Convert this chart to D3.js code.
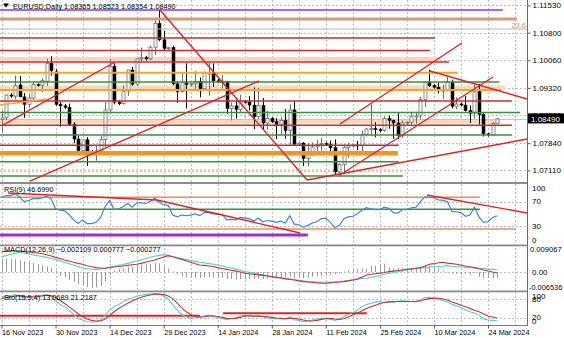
<!DOCTYPE html>
<html><head><meta charset="utf-8">
<script src="https://cdn.jsdelivr.net/npm/d3@7"></script>
<style>
html,body{margin:0;padding:0;background:#fff;overflow:hidden;}
svg{display:block;font-family:"Liberation Sans",Arial,sans-serif;}
</style></head><body>
<svg id="c" width="564" height="338"></svg>
<script>
// ---------------- DATA ----------------
const dates = ["2023-11-16","2023-11-17","2023-11-19","2023-11-20","2023-11-21","2023-11-22","2023-11-23","2023-11-24","2023-11-26","2023-11-27","2023-11-28","2023-11-29","2023-11-30","2023-12-01","2023-12-03","2023-12-04","2023-12-05","2023-12-06","2023-12-07","2023-12-08","2023-12-10","2023-12-11","2023-12-12","2023-12-13","2023-12-14","2023-12-15","2023-12-17","2023-12-18","2023-12-19","2023-12-20","2023-12-21","2023-12-22","2023-12-24","2023-12-26","2023-12-27","2023-12-28","2023-12-29","2023-12-31","2024-01-02","2024-01-03","2024-01-04","2024-01-05","2024-01-07","2024-01-08","2024-01-09","2024-01-10","2024-01-11","2024-01-12","2024-01-14","2024-01-15","2024-01-16","2024-01-17","2024-01-18","2024-01-19","2024-01-21","2024-01-22","2024-01-23","2024-01-24","2024-01-25","2024-01-26","2024-01-28","2024-01-29","2024-01-30","2024-01-31","2024-02-01","2024-02-02","2024-02-04","2024-02-05","2024-02-06","2024-02-07","2024-02-08","2024-02-09","2024-02-11","2024-02-12","2024-02-13","2024-02-14","2024-02-15","2024-02-16","2024-02-18","2024-02-19","2024-02-20","2024-02-21","2024-02-22","2024-02-23","2024-02-25","2024-02-26","2024-02-27","2024-02-28","2024-02-29","2024-03-01","2024-03-03","2024-03-04","2024-03-05","2024-03-06","2024-03-07","2024-03-08","2024-03-10","2024-03-11","2024-03-12","2024-03-13","2024-03-14","2024-03-15","2024-03-17","2024-03-18","2024-03-19","2024-03-20","2024-03-21","2024-03-22","2024-03-24","2024-03-25","2024-03-26"];

const open  = [1.0848,1.0852,1.0913,1.0910,1.0940,1.0908,1.0888,1.0905,1.0941,1.0939,1.0950,1.0998,1.0975,1.0888,1.0884,1.0880,1.0835,1.0795,1.0764,1.0793,1.0761,1.0758,1.0763,1.0794,1.0873,1.0990,1.0894,1.0890,1.0923,1.0980,1.0942,1.1010,1.1013,1.1010,1.1041,1.1105,1.1061,1.1038,1.1040,1.0943,1.0922,1.0946,1.0941,1.0943,1.0950,1.0930,1.0972,1.0972,1.0951,1.0948,1.0950,1.0877,1.0884,1.0874,1.0896,1.0894,1.0886,1.0855,1.0885,1.0838,1.0850,1.0842,1.0834,1.0845,1.0818,1.0873,1.0781,1.0784,1.0743,1.0755,1.0774,1.0781,1.0783,1.0780,1.0772,1.0707,1.0727,1.0773,1.0777,1.0779,1.0778,1.0808,1.0822,1.0823,1.0820,1.0818,1.0850,1.0845,1.0838,1.0804,1.0838,1.0840,1.0855,1.0857,1.0901,1.0947,1.0938,1.0934,1.0926,1.0926,1.0948,1.0883,1.0889,1.0886,1.0871,1.0864,1.0922,1.0861,1.0809,1.0806,1.08365];
const high  = [1.0872,1.0915,1.0918,1.0965,1.0964,1.0918,1.0916,1.0949,1.0945,1.0958,1.1010,1.1017,1.0982,1.0895,1.0889,1.0890,1.0840,1.0804,1.0793,1.0800,1.0766,1.0779,1.0804,1.0895,1.1009,1.0998,1.0899,1.0939,1.0980,1.0988,1.1012,1.1040,1.1018,1.1045,1.1121,1.1140,1.1085,1.1042,1.1045,1.0950,1.0970,1.0998,1.0946,1.0977,1.0960,1.0976,1.0999,1.0998,1.0956,1.0967,1.0950,1.0893,1.0899,1.0914,1.0900,1.0910,1.0933,1.0932,1.0905,1.0871,1.0854,1.0851,1.0855,1.0875,1.0888,1.0897,1.0786,1.0787,1.0785,1.0786,1.0793,1.0798,1.0788,1.0791,1.0794,1.0730,1.0781,1.0785,1.0782,1.0790,1.0818,1.0825,1.0888,1.0840,1.0825,1.0856,1.0858,1.0847,1.0866,1.0845,1.0843,1.0868,1.0868,1.0908,1.0950,1.0981,1.0942,1.0947,1.0941,1.0963,1.0954,1.0907,1.0893,1.0911,1.0885,1.0942,1.0943,1.0866,1.0812,1.0840,1.08523];
const low   = [1.0813,1.0846,1.0905,1.0901,1.0914,1.0852,1.0880,1.0900,1.0936,1.0921,1.0937,1.0965,1.0884,1.0828,1.0876,1.0831,1.0784,1.0764,1.0758,1.0723,1.0755,1.0737,1.0755,1.0772,1.0863,1.0888,1.0886,1.0887,1.0911,1.0938,1.0937,1.1000,1.1005,1.1007,1.1020,1.1057,1.1033,1.1033,1.0939,1.0892,1.0920,1.0877,1.0936,1.0930,1.0907,1.0925,1.0911,1.0935,1.0945,1.0930,1.0862,1.0845,1.0850,1.0868,1.0890,1.0872,1.0822,1.0849,1.0822,1.0820,1.0838,1.0795,1.0807,1.0796,1.0780,1.0781,1.0776,1.0723,1.0722,1.0750,1.0751,1.0764,1.0777,1.0763,1.0701,1.0695,1.0703,1.0745,1.0772,1.0765,1.0762,1.0802,1.0805,1.0800,1.0813,1.0815,1.0823,1.0796,1.0795,1.0798,1.0832,1.0833,1.0836,1.0848,1.0881,1.0935,1.0930,1.0917,1.0902,1.0923,1.0877,1.0875,1.0882,1.0869,1.0838,1.0850,1.0834,1.0802,1.0802,1.0805,1.08354];
const close = [1.0852,1.0913,1.0910,1.0938,1.0908,1.0888,1.0905,1.0941,1.0939,1.0952,1.0998,1.0978,1.0888,1.0884,1.0880,1.0835,1.0795,1.0764,1.0793,1.0761,1.0758,1.0763,1.0794,1.0873,1.0990,1.0894,1.0890,1.0923,1.0980,1.0942,1.1010,1.1013,1.1010,1.1041,1.1105,1.1061,1.1038,1.1040,1.0943,1.0922,1.0946,1.0941,1.0943,1.0950,1.0930,1.0972,1.0972,1.0951,1.0948,1.0950,1.0877,1.0884,1.0874,1.0896,1.0894,1.0886,1.0855,1.0885,1.0838,1.0850,1.0842,1.0834,1.0845,1.0818,1.0873,1.0781,1.0784,1.0743,1.0755,1.0774,1.0781,1.0783,1.0780,1.0772,1.0707,1.0727,1.0773,1.0777,1.0779,1.0778,1.0808,1.0822,1.0823,1.0820,1.0818,1.0850,1.0845,1.0838,1.0804,1.0838,1.0840,1.0855,1.0857,1.0901,1.0947,1.0938,1.0934,1.0926,1.0926,1.0948,1.0883,1.0889,1.0886,1.0871,1.0864,1.0922,1.0861,1.0809,1.0806,1.0837,1.08490];

const rsi = [77,80,80,83,78,70,72,75,75,76,79,75,58,56,55,49,40,34,40,34,34,36,44,62,72,57,58,62,67,61,68,68,67,70,76,69,65,64,48,45,48,47,48,50,47,52,52,50,49,49,40,41,40,44,43,42,38,43,37,39,38,36,38,35,47,33,32,28,31,35,37,42,43,36,27,31,42,45,46,50,56,60,58,57,57,61,59,52,51,57,57,60,61,70,78,77,76,73,72,70,54,53,52,46,48,61,45,36,37,44,46.699];

const macdHist = [0.0046,0.0047,0.0046,0.0044,0.0041,0.0037,0.0034,0.0031,0.0027,0.0023,0.0019,0.0014,0.0005,-0.0014,-0.0019,-0.0027,-0.0034,-0.0042,-0.0047,-0.0053,-0.0056,-0.0054,-0.0049,-0.0033,-0.0011,0.0006,0.0010,0.0013,0.0017,0.0019,0.0022,0.0025,0.0026,0.0028,0.0031,0.0030,0.0020,0.0012,0.0002,-0.0008,-0.0014,-0.0019,-0.0020,-0.0020,-0.0021,-0.0019,-0.0018,-0.0019,-0.0020,-0.0020,-0.0024,-0.0025,-0.0026,-0.0025,-0.0025,-0.0024,-0.0025,-0.0023,-0.0024,-0.0023,-0.0022,-0.0022,-0.0020,-0.0020,-0.0016,-0.0020,-0.0020,-0.0022,-0.0020,-0.0017,-0.0015,-0.0013,-0.0012,-0.0011,-0.0008,-0.0004,0.0002,0.0006,0.0008,0.0010,0.0012,0.0012,0.0021,0.0021,0.0027,0.0029,0.0017,0.0012,0.0014,0.0012,0.0014,0.0012,0.0014,0.0017,0.0021,0.0021,0.0017,0.0012,0.0003,-0.0002,-0.0006,-0.0006,-0.0009,-0.0006,-0.0009,-0.0003,-0.0017,-0.0021,-0.0021,-0.0022,-0.002109];
const macdMain = [0.00535,0.0057,0.0061,0.0065,0.00686,0.0066,0.0063,0.0060,0.00569,0.0054,0.0051,0.00477,0.0043,0.0039,0.00337,0.0029,0.0024,0.00186,0.0015,0.0012,0.00093,0.0009,0.00093,0.0013,0.00174,0.0020,0.0023,0.0026,0.0030,0.0034,0.0038,0.0042,0.0046,0.00511,0.0055,0.0058,0.00604,0.0058,0.0054,0.0050,0.0047,0.0043,0.0040,0.0037,0.00337,0.0032,0.0029,0.0027,0.00244,0.0021,0.0017,0.0014,0.0010,0.0006,0.00012,-0.0001,-0.0004,-0.0007,-0.0010,-0.0013,-0.00163,-0.0018,-0.0020,-0.0022,-0.0024,-0.00267,-0.0029,-0.0031,-0.00337,-0.0034,-0.0035,-0.0035,-0.0036,-0.0035,-0.0034,-0.0033,-0.00314,-0.0029,-0.0027,-0.0025,-0.0023,-0.00221,-0.0019,-0.0016,-0.0012,-0.0008,-0.00046,-0.0002,0.0001,0.0004,0.0007,0.0009,0.0011,0.0013,0.00151,0.0017,0.0018,0.0019,0.0020,0.00221,0.0020,0.0019,0.0018,0.0016,0.0015,0.0014,0.0013,0.0012,0.0010,0.0009,0.000777];
const macdSignal = [0.00709,0.0072,0.0073,0.0073,0.00732,0.0072,0.0070,0.0068,0.0066,0.00639,0.0060,0.0056,0.0051,0.0047,0.00418,0.0038,0.0034,0.0030,0.00267,0.0022,0.0018,0.00151,0.0014,0.00128,0.0015,0.00174,0.0019,0.0021,0.0023,0.0025,0.00267,0.0030,0.0034,0.0038,0.00418,0.0047,0.0052,0.00569,0.0053,0.0049,0.0044,0.0039,0.00337,0.0029,0.00244,0.0023,0.0021,0.0019,0.00151,0.0012,0.0009,0.0006,0.0003,0.0000,-0.00046,-0.0006,-0.0008,-0.0010,-0.0012,-0.0014,-0.00163,-0.0019,-0.0021,-0.0024,-0.0026,-0.00279,-0.0031,-0.00337,-0.0035,-0.0036,-0.0038,-0.0039,-0.00395,-0.0038,-0.0037,-0.0035,-0.00337,-0.0031,-0.0028,-0.00244,-0.0018,-0.00105,-0.0008,-0.0006,-0.0004,-0.0002,0.00012,0.0003,0.0005,0.0007,0.00093,0.0011,0.0013,0.00151,0.0021,0.00267,0.0029,0.0032,0.00337,0.0031,0.0029,0.0027,0.00244,0.0021,0.0018,0.00151,0.0011,0.0007,0.00035,0.0000,-0.000277];

const stoK = [85,88,88,92,88,82,84,88,88,90,92,85,72,62,55,45,32,20,15,10,9,10,15,30,45,55,62,70,78,82,88,90,92,94,95,93,88,78,62,45,32,24,20,22,25,28,30,26,22,20,16,20,22,28,30,28,26,28,25,22,20,18,20,18,25,16,14,10,12,15,18,20,20,18,14,18,25,32,38,45,55,62,65,70,70,69,70,68,72,73,72,71,70,76,83,84,82,78,74,70,63,58,52,46,40,36,30,18,15,14,13.0689];
const stoD = [80,83,85,88,89,87,85,85,86,88,90,89,83,74,65,55,45,34,25,18,14,12,12,18,28,40,50,58,66,73,79,84,88,91,93,94,92,88,80,66,52,40,32,26,24,25,27,28,26,23,20,19,20,23,27,28,27,27,26,25,23,21,20,19,20,20,18,15,12,12,14,17,19,20,18,17,19,24,30,36,43,50,55,60,65,68,70,71,71,71,71,71,72,73,77,80,82,81,79,76,70,65,60,55,50,45,40,33,27,24,21.2187];

const priceTicks = [1.11530,1.10800,1.10060,1.09320,1.08590,1.07840,1.07110];
const dateTickIdx = [0,12,24,36,48,60,72,84,96,108];
const dateTickLabels = ["16 Nov 2023","30 Nov 2023","14 Dec 2023","29 Dec 2023","14 Jan 2024","28 Jan 2024","11 Feb 2024","25 Feb 2024","10 Mar 2024","24 Mar 2024"];

// horizontal objects on price chart: price, end (bar index), kind
const levelPrices = [1.11407,1.11166,1.10898,1.10657,1.10322,1.10095,1.10014,1.09728,1.09478,1.09331,1.09264,1.08969,1.08661,1.08420,1.08318,1.08059,1.07783,1.07568,1.07343,1.07102,1.06960];
const levelEnds   = [111.3,114.4,116.7,96.2,95.1,97.3,99.3,101.3,110.5,111.8,111.0,113.3,115.1,110.7,113.3,113.3,88.2,88.0,88.2,89.1,89.1];
const levelKinds  = ["purple","fibo","gray","darkred","red","band","red","orange","green","band","orange","red","green","band","red","green","darkred","thickorange","green","banddot","green"];
// trend lines: [bar1, price1, bar2, price2]
const trendLines = [
  [0.33,1.08326,25.19,1.10014],
  [6.33,1.06826,57.16,1.09505],
  [35.18,1.11407,67.81,1.06853],
  [67.81,1.06853,116.7,1.07952],
  [75.14,1.06987,109.1,1.09612],
  [75.14,1.08353,102.2,1.10523],
  [95.12,1.09773,116.7,1.09023]
];
const orangeTrend = [[-0.33,1.08862,10.1,1.09023]];
const rsiTrend = [[1.44,84.3,34.5,72.8],[34.5,72.8,66.3,18.4],[94.45,81,116.7,51.4]];
const rsiLevels = [77.2,57.4,25,15.1];
const rsiLevelEnds = [106.2,106.2,114.2,68.0];
const rsiLevelKinds = ["salmon","green","salmon","purple"];
const stoLines = [[-0.33,28.2,44.06,28.2],[49.2,35.5,81.1,35.5]];
const bid = 1.08490;
const fiboLabel = "23.6";
const macdRange = [-0.006536,0.009067];

// ---------------- DRAW ----------------
const svg = d3.select("#c");
const W = 564, AX = 527;
const FONT = 7.3;
const x = d3.scaleLinear().domain([0,108]).range([1.5,488]);
const yP = d3.scaleLinear().domain([1.06800,1.11675]).range([182,0]);
const yR = d3.scaleLinear().domain([0,100]).range([244.2,183.45]);
const yM = d3.scaleLinear().domain(macdRange).range([290.7,246]);
const yS = d3.scaleLinear().domain([0,100]).range([325,292]);

const defs = svg.append("defs");
[["cMain",0,0,AX,182],["cRsi",0,184,AX,60],["cMacd",0,246,AX,44.5],["cSto",0,292,AX,33]].forEach(c=>{
  defs.append("clipPath").attr("id",c[0]).append("rect").attr("x",c[1]).attr("y",c[2]).attr("width",c[3]).attr("height",c[4]);
});
svg.append("rect").attr("width",W).attr("height",338).attr("fill","#fff");

const gridC = "#bdbdbd";
const gGrid = svg.append("g");
for (let k=0;k<=19;k++){
  const xi = Math.round(x(k*6))+0.5;
  if (xi>=AX) break;
  gGrid.append("line").attr("x1",xi).attr("x2",xi).attr("y1",0).attr("y2",325)
    .attr("stroke",gridC).attr("stroke-width",1).attr("stroke-dasharray","2,2");
}
function hgrid(y){ gGrid.append("line").attr("x1",0).attr("x2",AX).attr("y1",Math.round(y)+0.5).attr("y2",Math.round(y)+0.5)
    .attr("stroke",gridC).attr("stroke-dasharray","2,2"); }
priceTicks.forEach(p=>hgrid(yP(p)));
[70,30].forEach(v=>hgrid(yR(v)));
hgrid(yM(0));
[80,20].forEach(v=>hgrid(yS(v)));

// ---------- main panel ----------
const gMain = svg.append("g").attr("clip-path","url(#cMain)");
const styles = {
  purple:{c:"#9a32cc",w:1.5},
  fibo:{c:"#d49c78",w:3},
  gray:{c:"#b8b8b8",w:1},
  darkred:{c:"#a63a3a",w:1.5},
  red:{c:"#cf2b2b",w:1.5},
  band:{c:"#fad6be",w:4},
  banddot:{c:"#f3c39f",w:3,dash:"2,2"},
  orange:{c:"#f2a632",w:2},
  thickorange:{c:"#f5961a",w:4.5},
  green:{c:"#3c8f3c",w:1.5}
};
levelPrices.forEach((p,k)=>{
  const s = styles[levelKinds[k]];
  if (!levelKinds[k].startsWith("band")) return;
  gMain.append("line").attr("x1",0).attr("x2",x(levelEnds[k])).attr("y1",yP(p)).attr("y2",yP(p))
    .attr("stroke",s.c).attr("stroke-width",s.w).attr("stroke-dasharray",s.dash||null);
});
gMain.append("line").attr("x1",0).attr("x2",AX).attr("y1",Math.round(yP(bid))+0.5).attr("y2",Math.round(yP(bid))+0.5)
  .attr("stroke","#c4c4c4").attr("stroke-width",1);

const idx = d3.range(dates.length);
const gC = gMain.append("g");
idx.forEach(i=>{
  const xc = Math.round(x(i));
  const up = close[i] >= open[i];
  gC.append("line").attr("x1",xc+0.5).attr("x2",xc+0.5).attr("y1",yP(high[i])).attr("y2",yP(low[i]))
    .attr("stroke", up ? "#6e6e6e" : "#000").attr("stroke-width",1);
  const yt = yP(Math.max(open[i],close[i])), yb = yP(Math.min(open[i],close[i]));
  const h = Math.max(1, yb-yt);
  gC.append("rect").attr("x",xc-1).attr("y",yt).attr("width",3).attr("height",h)
    .attr("fill", up ? "#fff" : "#000").attr("stroke", up ? "#6e6e6e" : "#000").attr("stroke-width",up?0.8:0.5);
});

levelPrices.forEach((p,k)=>{
  if (levelKinds[k].startsWith("band")) return;
  const s = styles[levelKinds[k]];
  gMain.append("line").attr("x1",0).attr("x2",x(levelEnds[k])).attr("y1",yP(p)).attr("y2",yP(p))
    .attr("stroke",s.c).attr("stroke-width",s.w);
});
orangeTrend.forEach(t=>gMain.append("line").attr("x1",x(t[0])).attr("y1",yP(t[1])).attr("x2",x(t[2])).attr("y2",yP(t[3]))
  .attr("stroke","#f2a632").attr("stroke-width",1.5));
trendLines.forEach(t=>gMain.append("line").attr("x1",x(t[0])).attr("y1",yP(t[1])).attr("x2",x(t[2])).attr("y2",yP(t[3]))
  .attr("stroke","#d42828").attr("stroke-width",1.4));
svg.append("text").attr("x",526).attr("y",yP(levelPrices[1])+8.5).attr("text-anchor","end")
  .attr("font-size",7.5).attr("fill","#c8926c").text(fiboLabel);

svg.append("path").attr("d","M3,3.5 L9,3.5 L6,7.5 Z").attr("fill","#000");
svg.append("text").attr("x",13).attr("y",9).attr("font-size",FONT).attr("fill","#000")
  .text("EURUSD,Daily  " + [open[110],high[110],low[110],close[110]].map(d3.format(".5f")).join(" "));

// ---------- RSI ----------
const gR = svg.append("g").attr("clip-path","url(#cRsi)");
const rsiCol = {salmon:"#e0906a",green:"#3c8f3c",purple:"#9a32cc"};
rsiLevels.forEach((v,k)=>{
  gR.append("line").attr("x1",0).attr("x2",x(rsiLevelEnds[k])).attr("y1",yR(v)).attr("y2",yR(v))
    .attr("stroke",rsiCol[rsiLevelKinds[k]]).attr("stroke-width",rsiLevelKinds[k]==="purple"?3:1.5);
});
gR.append("path").datum(idx).attr("fill","none").attr("stroke","#3f86d4").attr("stroke-width",1.2)
  .attr("d",d3.line().x(i=>x(i)).y(i=>yR(rsi[i])));
rsiTrend.forEach(t=>gR.append("line").attr("x1",x(t[0])).attr("y1",yR(t[1])).attr("x2",x(t[2])).attr("y2",yR(t[3]))
  .attr("stroke","#d42828").attr("stroke-width",1.4));
svg.append("text").attr("x",4).attr("y",191.5).attr("font-size",FONT).text("RSI(9) " + d3.format(".4f")(rsi[110]));

// ---------- MACD ----------
const gM = svg.append("g").attr("clip-path","url(#cMacd)");
idx.forEach(i=>{
  const xc = Math.round(x(i))+0.5;
  gM.append("line").attr("x1",xc).attr("x2",xc).attr("y1",yM(0)).attr("y2",yM(macdHist[i]))
    .attr("stroke","#9a9a9a").attr("stroke-width",1);
});
gM.append("path").datum(idx).attr("fill","none").attr("stroke","#5cc8cc").attr("stroke-width",1.1)
  .attr("d",d3.line().x(i=>x(i)).y(i=>yM(macdMain[i])));
gM.append("path").datum(idx).attr("fill","none").attr("stroke","#b83a3a").attr("stroke-width",1.1)
  .attr("d",d3.line().x(i=>x(i)).y(i=>yM(macdSignal[i])));
svg.append("text").attr("x",4).attr("y",252).attr("font-size",FONT)
  .text("MACD(12,26,9) " + [macdHist[110],macdMain[110],macdSignal[110]].map(d3.format(".6f")).join(" "));

// ---------- Stochastic ----------
const gS = svg.append("g").attr("clip-path","url(#cSto)");
stoLines.forEach(t=>gS.append("line").attr("x1",x(t[0])).attr("y1",yS(t[1])).attr("x2",x(t[2])).attr("y2",yS(t[3]))
  .attr("stroke","#d42828").attr("stroke-width",2));
gS.append("path").datum(idx).attr("fill","none").attr("stroke","#5cc8cc").attr("stroke-width",1.1)
  .attr("d",d3.line().x(i=>x(i)).y(i=>yS(stoK[i])));
gS.append("path").datum(idx).attr("fill","none").attr("stroke","#b83a3a").attr("stroke-width",1.1)
  .attr("d",d3.line().x(i=>x(i)).y(i=>yS(stoD[i])));
svg.append("text").attr("x",4).attr("y",300).attr("font-size",FONT)
  .text("Sto(15,5,4) " + d3.format(".4f")(stoK[110]) + " " + d3.format(".4f")(stoD[110]));

// ---------- separators ----------
[[182,2],[244.5,1.8],[290.5,1.8]].forEach(s=>svg.append("rect").attr("x",0).attr("y",s[0]).attr("width",AX+1).attr("height",s[1]).attr("fill","#8c8c8c"));
svg.append("line").attr("x1",0).attr("x2",AX).attr("y1",325.5).attr("y2",325.5).attr("stroke","#7a7a7a");

// ---------- axes ----------
const axP = svg.append("g").attr("transform",`translate(${AX+0.5},0)`)
  .call(d3.axisRight(yP).tickValues(priceTicks).tickFormat(d3.format(".5f")).tickSize(3).tickPadding(2));
axP.select(".domain").remove();
svg.append("line").attr("x1",AX+0.5).attr("x2",AX+0.5).attr("y1",0).attr("y2",326).attr("stroke","#6a6a6a");

function sideLabel(txt,y,fs,xx){ svg.append("text").attr("x",xx||AX+5).attr("y",y).attr("dy","0.35em").attr("font-size",fs||8).text(txt); }
sideLabel("100", yR(100)+4.5); sideLabel("70", yR(70)); sideLabel("30", yR(30)); sideLabel("0", yR(0)-4.5);
sideLabel(d3.format(".6f")(macdRange[1]), yM(macdRange[1])+3.5, 7.6, AX+3);
sideLabel("0.00", yM(0));
sideLabel(d3.format(".6f")(macdRange[0]).replace("−","-"), yM(macdRange[0])-3.5, 7.4, AX+2);
sideLabel("100", yS(100)+4.5); sideLabel("80", yS(80)+0.5); sideLabel("20", yS(20)-1); sideLabel("0", yS(0)-4);

const yb = yP(bid);
svg.append("rect").attr("x",AX+1).attr("y",yb-5.5).attr("width",W-AX-1).attr("height",10).attr("fill","#000");
svg.append("text").attr("x",AX+4).attr("y",yb).attr("dy","0.35em").attr("font-size",8).attr("fill","#fff").text(d3.format(".5f")(bid));

const axT = svg.append("g").attr("transform","translate(0,325.5)")
  .call(d3.axisBottom(x).tickValues(dateTickIdx).tickFormat((d,k)=>dateTickLabels[k]).tickSize(3).tickPadding(1));
axT.select(".domain").remove();
axT.selectAll("text").attr("text-anchor","start").attr("font-size",FONT).attr("fill","#000");
axT.selectAll("line").attr("stroke","#555");
axP.selectAll("text").attr("font-size",8).attr("fill","#000");
axP.selectAll("line").attr("stroke","#555");
svg.selectAll("text").attr("font-family","'Liberation Sans',Arial,sans-serif");
</script>
</body></html>
